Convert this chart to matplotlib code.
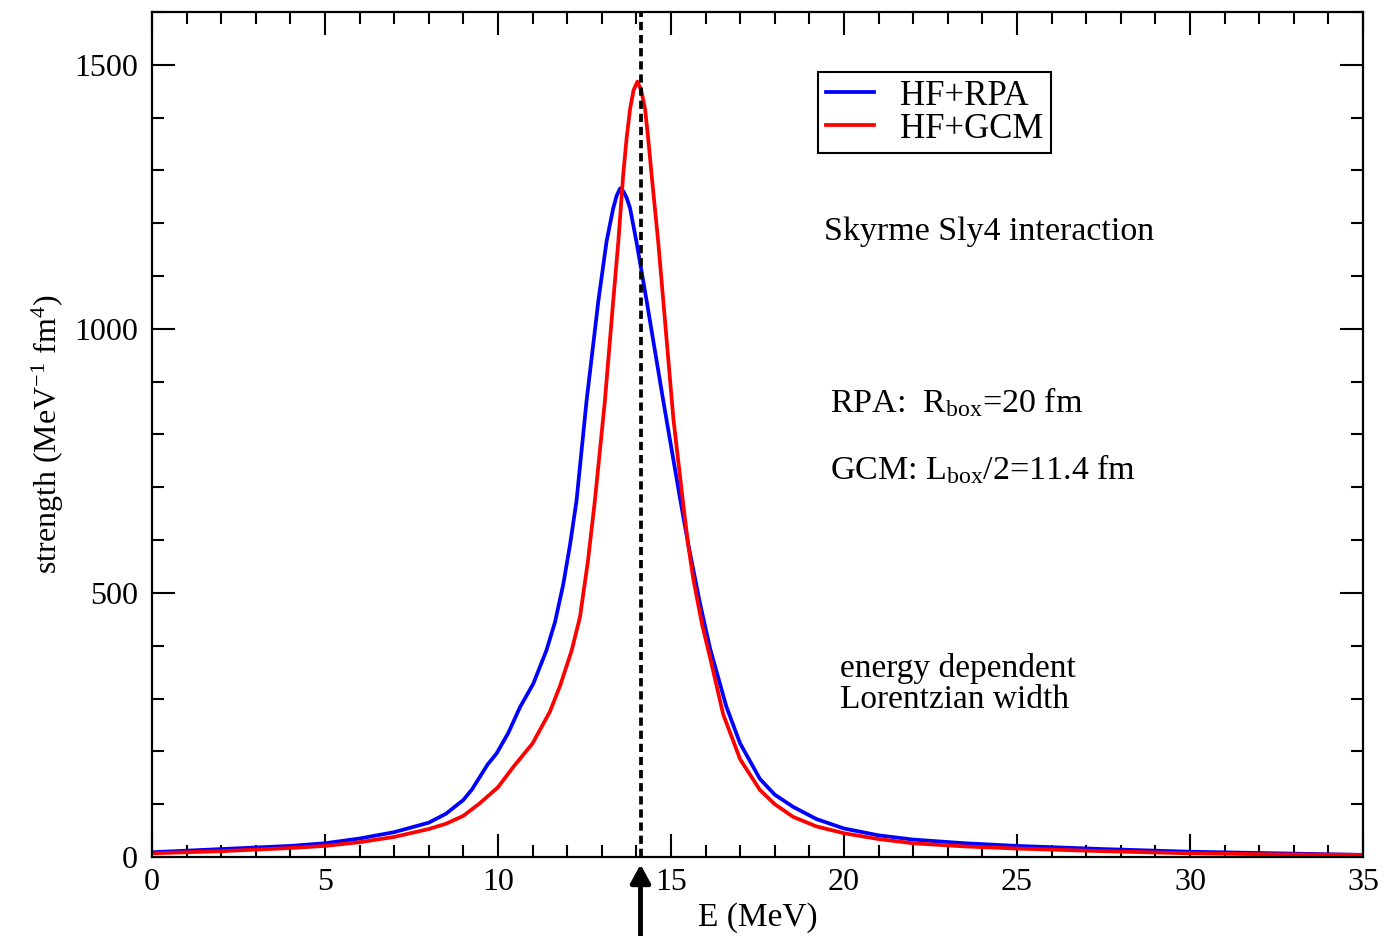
import numpy as np
import matplotlib
matplotlib.use("Agg")
import matplotlib.pyplot as plt
from matplotlib.ticker import MultipleLocator

plt.rcParams['font.family'] = ['Liberation Serif', 'DejaVu Serif']
plt.rcParams['mathtext.fontset'] = 'custom'
plt.rcParams['mathtext.rm'] = 'Liberation Serif'
plt.rcParams['mathtext.it'] = 'Liberation Serif:italic'

# HF+RPA strength function
e_rpa = [0, 1, 2, 3, 4, 5, 6, 7, 8, 8.5, 9, 9.25, 9.48, 9.7, 9.96, 10.3,
         10.64, 11.02, 11.4, 11.65, 11.89, 12.08, 12.27, 12.56, 12.9, 13.14,
         13.33, 13.43, 13.53, 13.63, 13.72, 13.82, 14.0, 14.3, 14.78, 15.26,
         15.5, 15.84, 16.13, 16.6, 17.0, 17.57, 18.0, 18.53, 19.2, 20.0, 21.0,
         22.0, 23.5, 25.0, 27.5, 30.0, 32.5, 35.0]
s_rpa = [9, 12, 15, 18, 21, 26, 35, 47, 65, 82, 108, 128, 152, 175, 196, 235,
         284, 328, 391, 445, 517, 590, 674, 863, 1052, 1166,
         1228, 1252, 1266, 1260, 1248, 1228, 1166, 1052, 863, 680,
         592, 480, 395, 285, 215, 148, 118, 95, 72, 54, 41,
         33, 26, 21, 15, 10, 7, 4]

# HF+GCM strength function
e_gcm = [0, 1, 2, 3, 4, 5, 6, 7, 8, 8.5, 9, 9.48, 10.0, 10.45, 11.0, 11.5,
         11.8, 12.13, 12.37, 12.6, 12.8, 13.09, 13.33, 13.48, 13.62, 13.72,
         13.82, 13.92, 14.03, 14.14, 14.25, 14.34, 14.44, 14.63, 14.78, 15.07,
         15.36, 15.5, 15.65, 15.9, 16.13, 16.51, 17.0, 17.57, 18.0, 18.53,
         19.2, 20.0, 21.0, 22.0, 23.5, 25.0, 27.5, 30.0, 32.5, 35.0]
s_gcm = [7, 9, 11, 14, 17, 21, 28, 38, 53, 63, 78, 102, 132, 171, 215, 275,
         325, 391, 454, 560, 674, 863, 1052, 1166, 1292, 1362,
         1417, 1452, 1468, 1452, 1417, 1362, 1292, 1166, 1052, 830,
         665, 590, 525, 440, 378, 270, 185, 127, 100, 76,
         58, 45, 34, 26, 20, 16, 11, 7, 5, 4]

e_centroid = 14.12

fig = plt.figure(figsize=(13.85, 9.36), dpi=100)
ax = fig.add_axes([0.1097, 0.0844, 0.8744, 0.9028])

ax.plot(e_rpa, s_rpa, color='#0000ff', lw=2.7, label='HF+RPA',
        solid_joinstyle='round')
ax.plot(e_gcm, s_gcm, color='#ff0000', lw=2.7, label='HF+GCM',
        solid_joinstyle='round')
ax.axvline(e_centroid, color='black', lw=2.7, ls=(0, (2.2, 1.3)))

ax.set_xlim(0, 35)
ax.set_ylim(0, 1600)
ax.xaxis.set_major_locator(MultipleLocator(5))
ax.xaxis.set_minor_locator(MultipleLocator(1))
ax.yaxis.set_major_locator(MultipleLocator(500))
ax.yaxis.set_minor_locator(MultipleLocator(100))
ax.tick_params(which='both', direction='in', top=True, right=True,
               width=1.5, labelsize=23)
ax.tick_params(which='major', length=16.5, pad=8)
ax.tick_params(axis='y', which='major', pad=10)
ax.tick_params(which='minor', length=8.5)
for sp in ax.spines.values():
    sp.set_linewidth(1.6)

ax.set_xlabel('E (MeV)', fontsize=24, labelpad=4)
ax.set_ylabel(r'strength (MeV$^{-1}$ fm$^{4}$)', fontsize=23, labelpad=6)

leg = ax.legend(loc='upper left', bbox_to_anchor=(0.55, 0.929),
                fontsize=25, frameon=True, fancybox=False, framealpha=1,
                edgecolor='black', handlelength=1.4, handletextpad=0.75,
                borderpad=0.22, labelspacing=0.0, borderaxespad=0)
leg.get_frame().set_linewidth(1.5)

ax.text(19.42, 1183, 'Skyrme Sly4 interaction', fontsize=24.5, va='center')
ax.text(19.6, 861, r'RPA:  R$_{\rm box}$=20 fm', fontsize=24.5, va='center')
ax.text(19.6, 735, r'GCM: L$_{\rm box}$/2=11.4 fm', fontsize=24.5,
        va='center')
ax.text(19.88, 328, 'energy dependent\nLorentzian width', fontsize=24,
        va='center', linespacing=1.0)

# arrow below the axis marking the centroid energy
ax.annotate('', xy=(e_centroid, -14), xytext=(e_centroid, -150),
            arrowprops=dict(arrowstyle='-|>,head_length=1.1,head_width=0.6',
                            color='black', lw=3.5, shrinkA=0, shrinkB=0),
            annotation_clip=False)

fig.savefig('out.png', dpi=100)
